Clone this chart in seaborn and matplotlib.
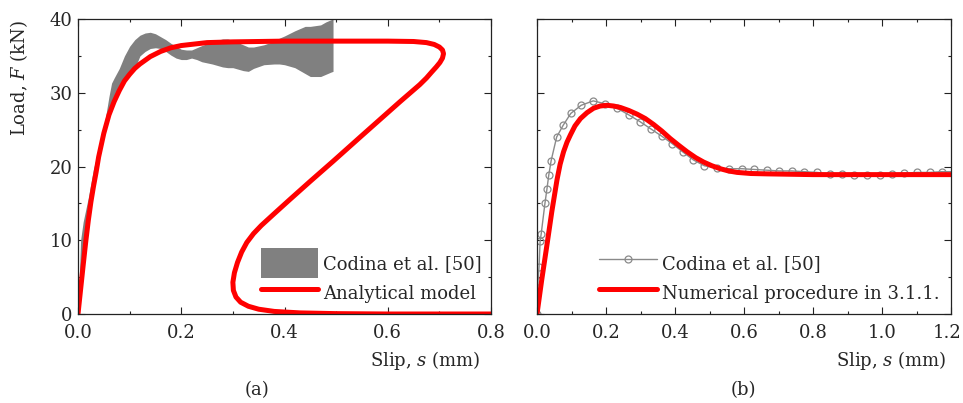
import numpy as np
import pandas as pd
import seaborn as sns
import matplotlib
matplotlib.use("Agg")
import matplotlib.pyplot as plt
import matplotlib.transforms as mtransforms
from matplotlib.ticker import MultipleLocator

# ---------------- data ----------------
# Panel (a): experimental band (Codina et al. [50])
band_s = [0.0, 0.005, 0.01, 0.02, 0.03, 0.04, 0.05, 0.06, 0.065, 0.07, 0.08, 0.09,
          0.10, 0.11, 0.12, 0.13, 0.14, 0.15, 0.16, 0.17, 0.18, 0.19, 0.20, 0.21,
          0.22, 0.23, 0.24, 0.26, 0.28, 0.29, 0.30, 0.31, 0.32, 0.33, 0.34, 0.36,
          0.38, 0.39, 0.40, 0.42, 0.44, 0.45, 0.46, 0.47, 0.48, 0.49, 0.494]
band_hi = [0.0, 10.0, 12.5, 15.8, 19.7, 22.3, 25.3, 29.5, 31.3, 32.0, 33.3, 35.0,
           36.3, 37.2, 37.8, 38.1, 38.2, 38.0, 37.6, 37.2, 36.7, 36.3, 35.9, 35.8,
           35.8, 36.1, 36.4, 36.9, 37.3, 37.3, 37.1, 36.8, 36.5, 36.2, 36.2, 36.5,
           37.0, 37.4, 37.7, 38.4, 39.0, 39.0, 39.1, 39.2, 39.6, 39.9, 40.0]
band_lo = [0.0, 3.3, 6.6, 12.7, 17.3, 21.3, 24.5, 27.0, 28.0, 28.8, 30.3, 31.6,
           32.5, 33.3, 35.0, 35.6, 36.0, 36.1, 36.0, 35.6, 35.1, 34.7, 34.5, 34.5,
           34.7, 34.5, 34.2, 33.9, 33.5, 33.4, 33.4, 33.2, 33.0, 32.9, 33.3, 33.8,
           33.9, 33.9, 33.8, 33.4, 32.6, 32.2, 32.2, 32.2, 32.5, 32.8, 32.9]

# Panel (a): analytical model (a looping curve, in drawing order)
ana_s = [0.0, 0.005, 0.01, 0.015, 0.02, 0.025, 0.03, 0.035, 0.04, 0.05, 0.06,
         0.07, 0.08, 0.09, 0.10, 0.11, 0.12, 0.14, 0.16, 0.18, 0.20, 0.25, 0.30,
         0.40, 0.50, 0.60, 0.65, 0.675, 0.69, 0.70, 0.706, 0.708, 0.706, 0.701,
         0.694, 0.685, 0.675, 0.662, 0.624, 0.55, 0.494, 0.45, 0.41, 0.38, 0.355,
         0.34, 0.327, 0.317, 0.309, 0.303, 0.300, 0.301, 0.306, 0.315, 0.33,
         0.35, 0.38, 0.43, 0.50, 0.60, 0.80]
ana_F = [0.0, 3.3, 6.6, 9.8, 12.7, 15.2, 17.3, 19.2, 21.3, 24.5, 27.0,
         28.8, 30.3, 31.6, 32.5, 33.3, 33.9, 34.9, 35.6, 36.1, 36.4, 36.8, 36.9,
         37.0, 37.0, 37.0, 36.95, 36.8, 36.55, 36.2, 35.8, 35.3, 34.7, 34.1,
         33.5, 32.8, 32.0, 31.1, 28.8, 24.2, 20.7, 18.0, 15.5, 13.6, 12.0,
         10.9, 9.7, 8.4, 7.0, 5.6, 4.3, 3.2, 2.3, 1.6, 1.05,
         0.65, 0.35, 0.15, 0.05, 0.0, 0.0]

# Panel (b): experimental curve (Codina et al. [50])
exp_s = [0.0, 0.003, 0.006, 0.009, 0.012, 0.023, 0.029, 0.034, 0.041, 0.057,
         0.076, 0.098, 0.128, 0.163, 0.198, 0.232, 0.266, 0.298, 0.330, 0.362,
         0.392, 0.422, 0.453, 0.485, 0.521, 0.557, 0.594, 0.629, 0.666, 0.702,
         0.738, 0.774, 0.811, 0.848, 0.884, 0.920, 0.956, 0.993, 1.029, 1.065,
         1.101, 1.138, 1.173, 1.215]
exp_F = [0.0, 4.5, 6.4, 9.9, 10.8, 15.0, 17.0, 18.8, 20.8, 24.0,
         25.6, 27.2, 28.3, 28.9, 28.5, 27.9, 27.0, 26.1, 25.1, 24.1,
         23.1, 22.0, 20.9, 20.1, 19.8, 19.7, 19.7, 19.6, 19.5, 19.4,
         19.4, 19.3, 19.2, 19.0, 19.0, 18.9, 18.9, 18.9, 19.0, 19.1,
         19.2, 19.2, 19.3, 19.3]

# Panel (b): numerical procedure in 3.1.1.
num_s = [0.0, 0.0136, 0.028, 0.043, 0.058, 0.067, 0.077, 0.087, 0.097, 0.11,
         0.126, 0.145, 0.164, 0.183, 0.203, 0.222, 0.242, 0.266, 0.290, 0.314,
         0.338, 0.362, 0.386, 0.41, 0.435, 0.46, 0.483, 0.507, 0.531, 0.555,
         0.580, 0.62, 0.667, 0.80, 1.0, 1.2]
num_F = [0.0, 4.6, 9.1, 13.9, 18.2, 20.3, 22.0, 23.3, 24.3, 25.5,
         26.5, 27.3, 27.9, 28.2, 28.3, 28.2, 28.0, 27.6, 27.1, 26.5,
         25.7, 24.8, 23.8, 22.9, 22.0, 21.2, 20.6, 20.1, 19.7, 19.4,
         19.2, 19.05, 19.0, 18.9, 18.9, 18.9]

legend_a = ["Codina et al. [50]", "Analytical model"]
legend_b = ["Codina et al. [50]", "Numerical procedure in 3.1.1."]
panel_tags = ["(a)", "(b)"]
xlabel = "Slip, $s$ (mm)"
ylabel = "Load, $F$ (kN)"

# ---------------- style ----------------
sns.set_theme(style="ticks")
FONT = "DejaVu Serif"
plt.rcParams["font.family"] = [FONT, "DejaVu Sans"]
plt.rcParams["mathtext.fontset"] = "custom"
plt.rcParams["mathtext.rm"] = FONT
plt.rcParams["mathtext.it"] = FONT + ":italic"
plt.rcParams["axes.edgecolor"] = "#222222"
plt.rcParams["axes.linewidth"] = 0.9

FS = 13
RED = "#ff0000"
GRAY = "#808080"
LGRAY = "#8a8a8a"

fig = plt.figure(figsize=(9.63, 4.03), dpi=100)
axA = fig.add_axes([78 / 963, 1 - 314 / 403, 413 / 963, 295 / 403])
axB = fig.add_axes([537 / 963, 1 - 314 / 403, 414 / 963, 295 / 403])

# ---- panel (a)
axA.fill_between(band_s, band_lo, band_hi, color=GRAY, lw=0, label=legend_a[0])
dfa = pd.DataFrame({"s": ana_s, "F": ana_F})
sns.lineplot(data=dfa, x="s", y="F", sort=False, estimator=None, ax=axA,
             color=RED, lw=3.6, label=legend_a[1])

# ---- panel (b)
dfe = pd.DataFrame({"s": exp_s, "F": exp_F})
sns.lineplot(data=dfe, x="s", y="F", sort=False, estimator=None, ax=axB,
             color=LGRAY, lw=1.0, marker="o", markersize=5,
             markerfacecolor="none", markeredgecolor=LGRAY, markeredgewidth=0.9,
             label=legend_b[0])
dfn = pd.DataFrame({"s": num_s, "F": num_F})
sns.lineplot(data=dfn, x="s", y="F", sort=False, estimator=None, ax=axB,
             color=RED, lw=3.6, label=legend_b[1])

for ax, xmax in ((axA, 0.8), (axB, 1.2)):
    ax.set_xlim(0, xmax)
    ax.set_ylim(0, 40)
    ax.xaxis.set_major_locator(MultipleLocator(0.2))
    ax.xaxis.set_minor_locator(MultipleLocator(0.1))
    ax.yaxis.set_major_locator(MultipleLocator(10))
    ax.yaxis.set_minor_locator(MultipleLocator(5))
    ax.tick_params(which="both", direction="in", top=True, right=True,
                   color="#222222", width=0.8)
    ax.tick_params(which="major", length=5, labelsize=FS)
    ax.tick_params(axis="x", which="major", pad=7)
    ax.tick_params(axis="y", which="major", pad=4)
    ax.tick_params(which="minor", length=2.5)
    ax.set_xticklabels([f"{v:.1f}" for v in ax.get_xticks()])
    ax.set_xlabel(xlabel, fontsize=FS)
    ax.set_ylabel("")
    for lab in ax.get_xticklabels() + ax.get_yticklabels():
        lab.set_fontsize(FS)

# nudge the last tick label of panel (b) so it stays inside the figure
last = [t for t in axB.get_xticklabels() if t.get_text() == "1.2"]
for t in last:
    t.set_transform(t.get_transform() +
                    mtransforms.ScaledTranslation(-4 / 100, 0, fig.dpi_scale_trans))

axA.xaxis.set_label_coords(0.84, -0.12)
axB.xaxis.set_label_coords(0.855, -0.12)
axA.set_ylabel(ylabel, fontsize=FS)
axA.yaxis.set_label_coords(-0.116, 0.80)
axB.tick_params(axis="y", labelleft=False)

leg_kw = dict(loc="lower right", frameon=False, fontsize=FS,
              handlelength=3.2, handleheight=2.15, labelspacing=0.05,
              handletextpad=0.25, borderpad=0.2, borderaxespad=0.1)
axA.legend(bbox_to_anchor=(0.99, 0.0), **leg_kw)
axB.legend(bbox_to_anchor=(0.985, 0.0), **leg_kw)

fig.text(257 / 963, 1 - 390 / 403, panel_tags[0], fontsize=FS,
         ha="center", va="center")
fig.text(743 / 963, 1 - 390 / 403, panel_tags[1], fontsize=FS,
         ha="center", va="center")

fig.savefig("out.png", dpi=100)
